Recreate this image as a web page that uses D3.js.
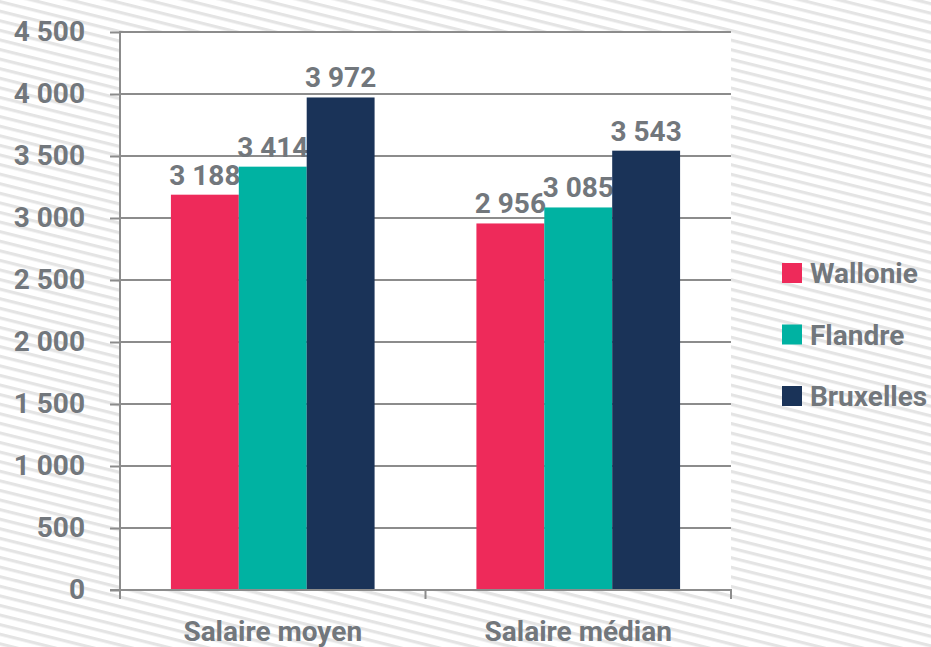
<!DOCTYPE html>
<html><head><meta charset="utf-8">
<script src="https://cdn.jsdelivr.net/npm/d3@7"></script>
<style>
html,body{margin:0;padding:0;background:#fff;}
text{font-family:Roboto,"Liberation Sans Narrow",sans-serif;font-weight:700;fill:#72777c;}
</style></head><body>
<svg id="c" width="931" height="647"></svg>
<script>
const categories = ["Salaire moyen", "Salaire médian"];
const series = ["Wallonie", "Flandre", "Bruxelles"];
const wallonie = [3188, 2956];
const flandre = [3414, 3085];
const bruxelles = [3972, 3543];
const colors = ["#ee2a5a", "#00b2a2", "#1a3358"];
const yTicks = [0, 500, 1000, 1500, 2000, 2500, 3000, 3500, 4000, 4500];

(function(){
const values = [wallonie, flandre, bruxelles];
const svg = d3.select("#c");
const W = 931, H = 647;
const pL = 120, pR = 731, pT = 32, pB = 590;
const FS = 28;

// hatched background
const defs = svg.append("defs");
const pat = defs.append("pattern").attr("id","hatch").attr("patternUnits","userSpaceOnUse")
  .attr("width", 40).attr("height", 9.3).attr("patternTransform","rotate(14)");
pat.append("rect").attr("width",40).attr("height",9.3).attr("fill","#ffffff");
pat.append("rect").attr("y",0).attr("width",40).attr("height",3.2).attr("fill","#e4e4e4");
svg.append("rect").attr("width",W).attr("height",H).attr("fill","url(#hatch)");
svg.append("rect").attr("x",pL).attr("y",pT).attr("width",pR-pL).attr("height",pB-pT).attr("fill","#fff");

const y = d3.scaleLinear().domain([0, 4500]).range([pB, pT]);
const x0 = d3.scaleBand().domain(categories).range([pL, pR]).padding(0);
const bw = x0.bandwidth();
const x1 = d3.scaleBand().domain(series).range([bw/6, bw*5/6]).padding(0);
const fmt = d => d3.format(",")(d).replace(/,/g, " ");

// gridlines
svg.append("g").selectAll("line").data(yTicks.filter(d=>d>0)).join("line")
  .attr("x1", pL).attr("x2", pR).attr("y1", d=>y(d)).attr("y2", d=>y(d))
  .attr("stroke","#8c8c8c").attr("stroke-width",2);

// bars
const g = svg.append("g");
categories.forEach((c, ci) => {
  series.forEach((s, si) => {
    const v = values[si][ci];
    g.append("rect").attr("x", x0(c) + x1(s)).attr("width", x1.bandwidth())
      .attr("y", y(v)).attr("height", y(0) - y(v)).attr("fill", colors[si]);
    g.append("text").attr("x", x0(c) + x1(s) + x1.bandwidth()/2).attr("y", y(v) - 10)
      .attr("text-anchor","middle").attr("font-size", FS)
      .text(fmt(v));
  });
});

// y axis
const yAxis = d3.axisLeft(y).tickValues(yTicks).tickSize(10).tickPadding(25).tickFormat(fmt);
const ya = svg.append("g").attr("transform", `translate(${pL},0)`).call(yAxis);
ya.select(".domain").remove();
ya.selectAll(".tick line").attr("stroke","#8c8c8c").attr("stroke-width",2);
ya.selectAll(".tick text").attr("font-size",FS).attr("fill","#72777c").attr("font-family","Roboto").attr("font-weight",700);
svg.append("line").attr("x1",pL).attr("x2",pL).attr("y1",pT-1).attr("y2",pB+9)
  .attr("stroke","#8c8c8c").attr("stroke-width",2);

// x axis
svg.append("line").attr("x1",pL-10).attr("x2",pR+1).attr("y1",pB).attr("y2",pB)
  .attr("stroke","#8c8c8c").attr("stroke-width",2);
const xt = [pL, pL + bw, pR];
svg.append("g").selectAll("line").data(xt).join("line")
  .attr("x1",d=>d).attr("x2",d=>d).attr("y1",pB).attr("y2",pB+9)
  .attr("stroke","#8c8c8c").attr("stroke-width",2);
svg.append("g").selectAll("text").data(categories).join("text")
  .attr("x", d => x0(d) + bw/2).attr("y", 641).attr("text-anchor","middle")
  .attr("font-size",FS).text(d=>d);

// legend
const lg = svg.append("g");
series.forEach((s, i) => {
  const cy = 273 + i*61.5;
  lg.append("rect").attr("x",782).attr("y",cy-10).attr("width",20).attr("height",20).attr("fill",colors[i]);
  lg.append("text").attr("x",810).attr("y",cy+10).attr("font-size",FS).text(s);
});
})();
</script></body></html>
